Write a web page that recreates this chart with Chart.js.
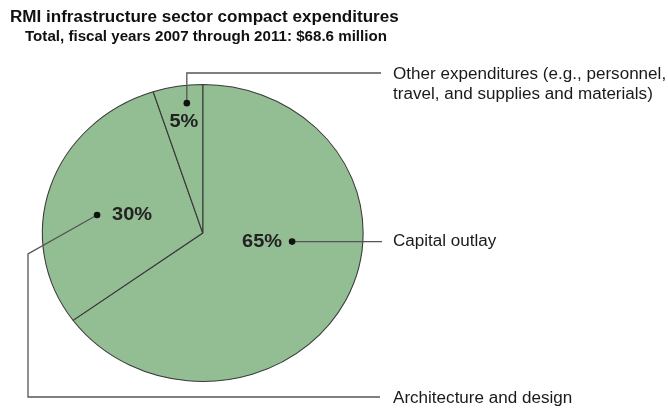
<!DOCTYPE html>
<html>
<head>
<meta charset="utf-8">
<script src="https://cdn.jsdelivr.net/npm/chart.js@4"></script>
<style>
  html, body { margin: 0; padding: 0; background: #fff; }
  #wrap { position: relative; width: 668px; height: 409px; }
</style>
</head>
<body>
<div id="wrap"><canvas id="pieChart" width="668" height="409"></canvas></div>
<script>
const titleText = 'RMI infrastructure sector compact expenditures';
const subtitleText = 'Total, fiscal years 2007 through 2011: $68.6 million';
const categories = ['Capital outlay', 'Architecture and design', 'Other expenditures (e.g., personnel,\ntravel, and supplies and materials)'];
const shares = [65, 30, 5];

// where each percent label sits inside its slice (fraction of sweep, fraction of radius)
const callouts = [
    { t: 0.41, r: 0.56, text: 'right' },
    { t: 0.43, r: 0.67, text: 'left' },
    { t: 0.64, r: 0.88, text: 'below' }
];

const FONT = '"Liberation Sans", Arial, sans-serif';
const X_STRETCH = 1.08;   // whole graphic is a bit wider than tall

const ovalPlugin = {
    id: 'oval',
    beforeDatasetsDraw(chart) {
        const arc = chart.getDatasetMeta(0).data[0];
        const ctx = chart.ctx;
        ctx.save();
        ctx.translate(arc.x, 0);
        ctx.scale(X_STRETCH, 1);
        ctx.translate(-arc.x, 0);
    },
    afterDatasetsDraw(chart) {
        chart.ctx.restore();
    }
};

function wideText(ctx, s, x, y) {
    ctx.save();
    ctx.translate(x, y);
    ctx.scale(X_STRETCH, 1);
    ctx.fillText(s, 0, 0);
    ctx.restore();
}

const labelPlugin = {
    id: 'calloutLabels',
    afterDraw(chart) {
        const ctx = chart.ctx;
        const arcs = chart.getDatasetMeta(0).data;
        ctx.save();

        // headings
        ctx.fillStyle = '#111';
        ctx.textBaseline = 'alphabetic';
        ctx.textAlign = 'left';
        ctx.font = 'bold 15.8px ' + FONT;
        wideText(ctx, titleText, 10, 21.5);
        ctx.font = 'bold 14px ' + FONT;
        wideText(ctx, subtitleText, 25, 41);

        const pts = arcs.map((a, i) => {
            const c = callouts[i];
            const ang = a.startAngle + c.t * (a.endAngle - a.startAngle);
            const rr = a.outerRadius * c.r;
            return { x: a.x + X_STRETCH * rr * Math.cos(ang), y: a.y + rr * Math.sin(ang) };
        });

        // leader lines
        ctx.strokeStyle = '#555';
        ctx.lineWidth = 1.3;
        const lines = [
            [pts[0], { x: 382, y: pts[0].y }],
            [pts[1], { x: 28, y: 254 }, { x: 28, y: 397 }, { x: 380, y: 397 }],
            [pts[2], { x: pts[2].x, y: 73 }, { x: 381, y: 73 }]
        ];
        lines.forEach(seg => {
            ctx.beginPath();
            ctx.moveTo(seg[0].x, seg[0].y);
            seg.slice(1).forEach(p => ctx.lineTo(p.x, p.y));
            ctx.stroke();
        });

        // dots
        ctx.fillStyle = '#111';
        pts.forEach(p => {
            ctx.beginPath();
            ctx.arc(p.x, p.y, 3.3, 0, Math.PI * 2);
            ctx.fill();
        });

        // percent labels
        ctx.font = 'bold 18.5px ' + FONT;
        ctx.fillStyle = '#222';
        ctx.textBaseline = 'middle';
        shares.forEach((v, i) => {
            const p = pts[i];
            const s = v + '%';
            const side = callouts[i].text;
            if (side === 'right') {
                ctx.textAlign = 'right';
                wideText(ctx, s, p.x - 10, p.y);
            } else if (side === 'left') {
                ctx.textAlign = 'left';
                wideText(ctx, s, p.x + 15, p.y);
            } else {
                ctx.textAlign = 'center';
                wideText(ctx, s, p.x - 3, p.y + 19);
            }
        });

        // category names
        ctx.font = '15.8px ' + FONT;
        ctx.fillStyle = '#1a1a1a';
        ctx.textAlign = 'left';
        ctx.textBaseline = 'middle';
        const nameAnchors = [
            { x: 393, y: pts[0].y + 0.5 },
            { x: 393, y: 398.5 },
            { x: 393, y: 75 }
        ];
        categories.forEach((name, i) => {
            name.split('\n').forEach((ln, k) => {
                wideText(ctx, ln, nameAnchors[i].x, nameAnchors[i].y + k * 19.5);
            });
        });

        ctx.restore();
    }
};

new Chart(document.getElementById('pieChart').getContext('2d'), {
    type: 'pie',
    data: {
        labels: categories,
        datasets: [{
            data: shares,
            backgroundColor: '#93bd93',
            borderColor: '#3a3a3a',
            borderWidth: 1,
            borderAlign: 'center'
        }]
    },
    options: {
        responsive: false,
        animation: false,
        events: [],
        layout: { padding: { left: 53.5, right: 316, top: 84, bottom: 27 } },
        plugins: {
            legend: { display: false },
            tooltip: { enabled: false },
            title: { display: false }
        }
    },
    plugins: [ovalPlugin, labelPlugin]
});
</script>
</body>
</html>
